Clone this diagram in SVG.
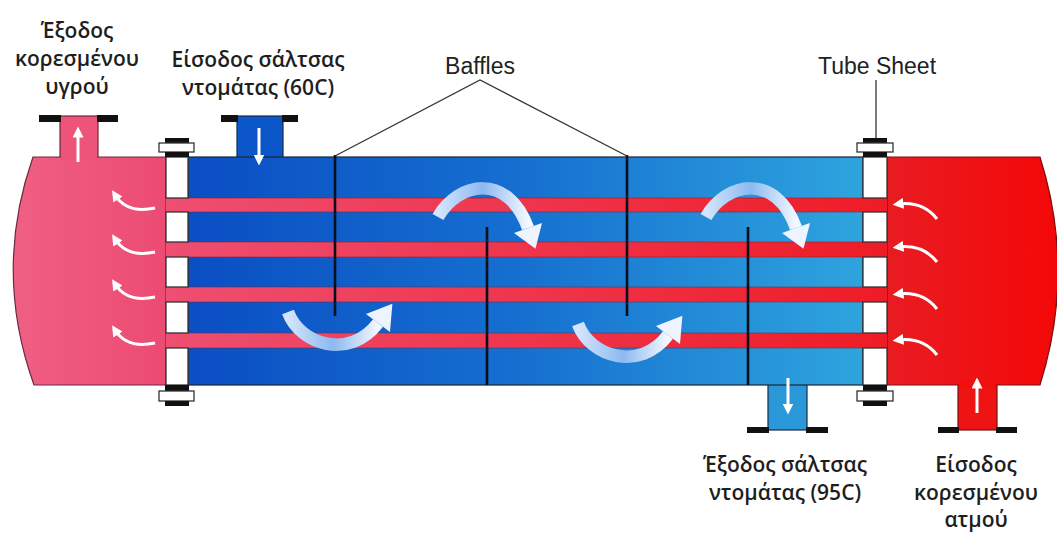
<svg xmlns="http://www.w3.org/2000/svg" width="1057" height="534" viewBox="0 0 1057 534">
  <style>
    .lbl { font-family: "Open Sans", "Noto Sans", "DejaVu Sans", sans-serif; font-weight: 600; font-size: 21px; fill: #1e1e1e; text-anchor: middle; }
    .tag { font-family: "Liberation Sans", Arial, sans-serif; font-size: 23px; fill: #222; text-anchor: middle; }
    .leader { stroke: #333; stroke-width: 1.3; fill: none; }
    .sheet { fill: #fff; stroke: #333; stroke-width: 1.3; }
    .blk { fill: #111; }
    .flange { fill: #fff; stroke: #333; stroke-width: 1.3; }
    .baffle { stroke: #0a0f1e; stroke-width: 2.6; }
    .tube-edge { stroke: #7a2438; stroke-width: 1; opacity: 0.55; }
    .wflow { stroke: #fff; stroke-width: 3; fill: none; marker-end: url(#mWhite); }
  </style>
  <defs>
    <linearGradient id="gShell" x1="0" y1="0" x2="1" y2="0">
      <stop offset="0" stop-color="#0a4ec4"/>
      <stop offset="0.5" stop-color="#1670d0"/>
      <stop offset="1" stop-color="#2ea4de"/>
    </linearGradient>
    <linearGradient id="gPink" x1="0" y1="0" x2="1" y2="0">
      <stop offset="0" stop-color="#f05f84"/>
      <stop offset="1" stop-color="#ec4b72"/>
    </linearGradient>
    <linearGradient id="gRed" x1="0" y1="0" x2="1" y2="0">
      <stop offset="0" stop-color="#e81c22"/>
      <stop offset="1" stop-color="#f40808"/>
    </linearGradient>
    <linearGradient id="gTube" x1="0" y1="0" x2="1" y2="0">
      <stop offset="0" stop-color="#ee4f72"/>
      <stop offset="1" stop-color="#ee1c26"/>
    </linearGradient>
    <linearGradient id="gFlow" x1="0" y1="0" x2="1" y2="0">
      <stop offset="0" stop-color="#d4e5fb"/>
      <stop offset="0.5" stop-color="#8cb9f0"/>
      <stop offset="1" stop-color="#f3f8ff"/>
    </linearGradient>
    <marker id="mWhite" viewBox="0 0 10 10" refX="5" refY="5" markerWidth="11" markerHeight="11" markerUnits="userSpaceOnUse" orient="auto">
      <path d="M0,0 L10,5 L0,10 z" fill="#fff"/>
    </marker>
    <!-- shell-side flow arrow passing over a baffle -->
    <g id="flowOver">
      <path d="M0,0 C20,-35 70,-45 90,11" stroke="url(#gFlow)" stroke-width="12.5" fill="none"/>
      <polygon points="104,6 76,16 97.5,31.7" fill="#eef4ff"/>
    </g>
    <!-- shell-side flow arrow passing under a baffle -->
    <g id="flowUnder">
      <path d="M0,0 C12,33 62,48 90,11" stroke="url(#gFlow)" stroke-width="12.5" fill="none"/>
      <polygon points="102,20 78,2 104.4,-8.2" fill="#eef4ff"/>
    </g>
  </defs>

  <!-- channel heads -->
  <g id="left-head">
    <rect x="60" y="116" width="38" height="44" fill="#ee5479" stroke="#6b2a3c" stroke-width="1.2"/>
    <path d="M166,157 L33,157 Q-7,271 34,385 L166,385 Z" fill="url(#gPink)" stroke="#6b2a3c" stroke-width="1.2"/>
    <rect x="61" y="150" width="36" height="10" fill="#ee5479"/>
    <rect class="blk" x="39" y="115" width="22" height="7"/>
    <rect class="blk" x="97" y="115" width="21" height="7"/>
  </g>
  <g id="right-head">
    <rect x="958" y="380" width="39" height="50" fill="#ee1414" stroke="#7a1010" stroke-width="1.2"/>
    <path d="M887,157 L1040,157 Q1076,271 1040,385 L887,385 Z" fill="url(#gRed)" stroke="#7a1010" stroke-width="1.2"/>
    <rect x="959" y="380" width="37" height="10" fill="#f01010"/>
    <rect class="blk" x="938" y="427" width="21" height="6"/>
    <rect class="blk" x="996" y="427" width="21" height="6"/>
  </g>

  <!-- shell -->
  <g id="shell">
    <rect x="237" y="116" width="46" height="44" fill="#0b56c8" stroke="#1a2a4a" stroke-width="1.2"/>
    <rect x="768" y="380" width="39" height="50" fill="#2a98d8" stroke="#1a2a4a" stroke-width="1.2"/>
    <rect x="188" y="157" width="675" height="228" fill="url(#gShell)" stroke="#1e2433" stroke-width="1.2"/>
    <rect class="blk" x="221" y="115" width="17" height="7"/>
    <rect class="blk" x="282" y="115" width="16" height="7"/>
    <rect class="blk" x="747" y="427" width="22" height="6"/>
    <rect class="blk" x="806" y="427" width="22" height="6"/>
  </g>

  <!-- tubes -->
  <g id="tubes">
    <rect x="166" y="198" width="721" height="14" fill="url(#gTube)"/>
    <rect x="166" y="242" width="721" height="15" fill="url(#gTube)"/>
    <rect x="166" y="287" width="721" height="15" fill="url(#gTube)"/>
    <rect x="166" y="333" width="721" height="15" fill="url(#gTube)"/>
    <g class="tube-edge">
      <line x1="188" y1="198" x2="863" y2="198"/><line x1="188" y1="212" x2="863" y2="212"/>
      <line x1="188" y1="242" x2="863" y2="242"/><line x1="188" y1="257" x2="863" y2="257"/>
      <line x1="188" y1="287" x2="863" y2="287"/><line x1="188" y1="302" x2="863" y2="302"/>
      <line x1="188" y1="333" x2="863" y2="333"/><line x1="188" y1="348" x2="863" y2="348"/>
    </g>
  </g>

  <!-- tube sheets with their flanges -->
  <g id="tube-sheet-left">
    <rect class="sheet" x="166" y="157" width="22" height="41"/>
    <rect class="sheet" x="166" y="212" width="22" height="30"/>
    <rect class="sheet" x="166" y="257" width="22" height="30"/>
    <rect class="sheet" x="166" y="302" width="22" height="31"/>
    <rect class="sheet" x="166" y="348" width="22" height="37"/>
    <rect class="blk" x="165" y="138" width="24" height="5"/>
    <rect class="flange" x="159" y="143" width="35" height="9"/>
    <rect class="blk" x="165" y="152" width="24" height="5"/>
    <rect class="blk" x="165" y="385" width="24" height="6"/>
    <rect class="flange" x="159" y="391" width="35" height="10"/>
    <rect class="blk" x="165" y="401" width="24" height="5"/>
  </g>
  <g id="tube-sheet-right">
    <rect class="sheet" x="863" y="157" width="24" height="41"/>
    <rect class="sheet" x="863" y="212" width="24" height="30"/>
    <rect class="sheet" x="863" y="257" width="24" height="30"/>
    <rect class="sheet" x="863" y="302" width="24" height="31"/>
    <rect class="sheet" x="863" y="348" width="24" height="37"/>
    <rect class="blk" x="863" y="138" width="24" height="5"/>
    <rect class="flange" x="857" y="143" width="36" height="9"/>
    <rect class="blk" x="863" y="152" width="24" height="5"/>
    <rect class="blk" x="863" y="385" width="24" height="6"/>
    <rect class="flange" x="857" y="391" width="36" height="10"/>
    <rect class="blk" x="863" y="401" width="24" height="5"/>
  </g>

  <!-- baffles -->
  <g id="baffles">
    <line class="baffle" x1="335" y1="155" x2="335" y2="316"/>
    <line class="baffle" x1="627" y1="155" x2="627" y2="316"/>
    <line class="baffle" x1="487" y1="227" x2="487" y2="385"/>
    <line class="baffle" x1="748" y1="227" x2="748" y2="385"/>
  </g>

  <!-- shell-side flow -->
  <g id="shell-flow">
    <use href="#flowUnder" transform="translate(288,312)"/>
    <use href="#flowOver" transform="translate(438,217)"/>
    <use href="#flowUnder" transform="translate(578,324)"/>
    <use href="#flowOver" transform="translate(706,217)"/>
  </g>

  <!-- tube-side and nozzle flow -->
  <g id="tube-flow">
    <path class="wflow" d="M155,208 Q127,214 115,195"/>
    <path class="wflow" d="M155,252 Q127,258 115,239"/>
    <path class="wflow" d="M155,297 Q127,303 115,284"/>
    <path class="wflow" d="M155,343 Q127,349 115,330"/>
    <path class="wflow" d="M937,219 Q923,201 898,204"/>
    <path class="wflow" d="M937,262 Q923,244 898,247"/>
    <path class="wflow" d="M937,309 Q923,291 898,294"/>
    <path class="wflow" d="M937,355 Q923,337 898,340"/>
    <line class="wflow" x1="78" y1="162" x2="78" y2="132"/>
    <line class="wflow" x1="259" y1="128" x2="259" y2="160"/>
    <line class="wflow" x1="788" y1="378" x2="788" y2="409"/>
    <line class="wflow" x1="977" y1="413" x2="977" y2="383"/>
  </g>

  <!-- leader lines -->
  <g id="connectors">
    <polyline class="leader" points="335,156 480,80 627,156"/>
    <line class="leader" x1="876" y1="80" x2="876" y2="138"/>
  </g>

  <!-- labels -->
  <g id="label-liquid-out">
    <text class="lbl" x="77" y="38">Έξοδος</text>
    <text class="lbl" x="77" y="66">κορεσμένου</text>
    <text class="lbl" x="77" y="94">υγρού</text>
  </g>
  <g id="label-sauce-in">
    <text class="lbl" x="258" y="67">Είσοδος σάλτσας</text>
    <text class="lbl" x="258" y="95">ντομάτας (60C)</text>
  </g>
  <g id="label-baffles">
    <text class="tag" x="480" y="74">Baffles</text>
  </g>
  <g id="label-tube-sheet">
    <text class="tag" x="877" y="74">Tube Sheet</text>
  </g>
  <g id="label-sauce-out">
    <text class="lbl" x="785" y="472">Έξοδος σάλτσας</text>
    <text class="lbl" x="785" y="500">ντομάτας (95C)</text>
  </g>
  <g id="label-steam-in">
    <text class="lbl" x="976" y="472">Είσοδος</text>
    <text class="lbl" x="976" y="500">κορεσμένου</text>
    <text class="lbl" x="976" y="527">ατμού</text>
  </g>
</svg>
